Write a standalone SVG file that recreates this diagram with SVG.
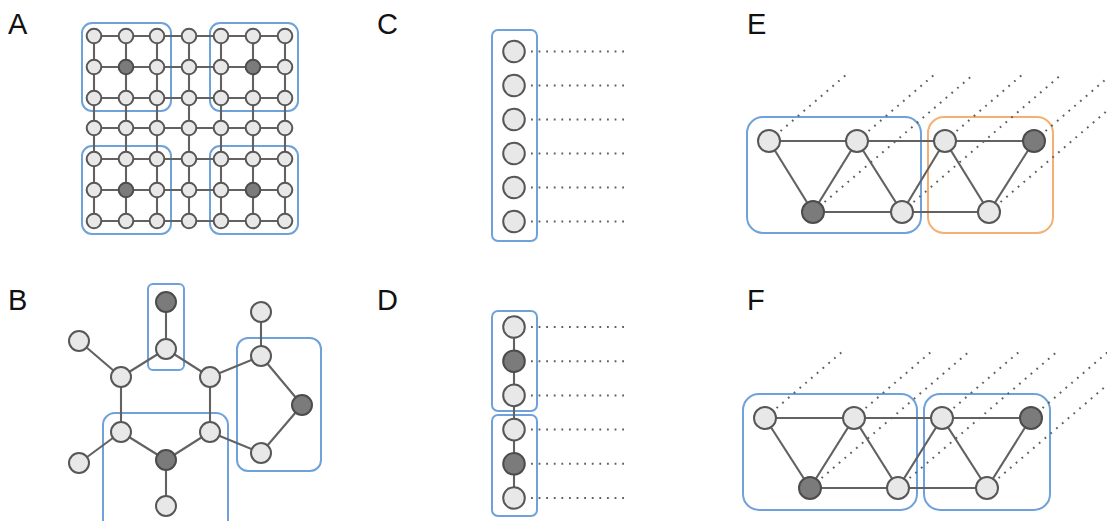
<svg xmlns="http://www.w3.org/2000/svg" width="1107" height="521" viewBox="0 0 1107 521">
<style>
.lbl{font-family:"Liberation Sans",Arial,sans-serif;font-size:29px;fill:#111}
.e{stroke:#626262;stroke-width:2.1;fill:none}
.dot{stroke:#5f5f5f;stroke-width:2;fill:none;stroke-dasharray:1.8 5.8}
.n{fill:#e8e8e8;stroke:#575757;stroke-width:2}
.d{fill:#7b7b7b;stroke:#4c4c4c;stroke-width:2}
.bb{fill:none;stroke:#6fa2da;stroke-width:2}
.ob{fill:none;stroke:#f4b073;stroke-width:2}
</style>
<rect width="1107" height="521" fill="#fff"/>
<g id="labels">
<text class="lbl" x="8" y="34">A</text>
<text class="lbl" x="8" y="310">B</text>
<text class="lbl" x="377" y="34">C</text>
<text class="lbl" x="377" y="310">D</text>
<text class="lbl" x="747" y="34">E</text>
<text class="lbl" x="747" y="310">F</text>
</g>
<g id="groups">
<rect class="bb" x="82" y="23" width="89" height="88" rx="10"/>
<rect class="bb" x="210" y="23" width="88" height="88" rx="10"/>
<rect class="bb" x="82" y="146" width="89" height="88" rx="10"/>
<rect class="bb" x="210" y="146" width="88" height="88" rx="10"/>
<rect class="bb" x="148" y="284" width="36" height="86" rx="5"/>
<rect class="bb" x="237" y="338" width="84" height="133" rx="11"/>
<rect class="bb" x="103" y="413" width="125" height="125" rx="12"/>
<rect class="bb" x="492" y="30" width="45" height="211" rx="6"/>
<rect class="bb" x="492" y="311" width="45" height="100" rx="6"/>
<rect class="bb" x="492" y="415" width="45" height="101" rx="6"/>
<rect class="bb" x="747" y="117" width="174" height="116" rx="16"/>
<rect class="ob" x="928" y="117" width="125" height="116" rx="16"/>
<rect class="bb" x="743" y="394" width="174" height="116" rx="16"/>
<rect class="bb" x="924" y="394" width="126" height="116" rx="16"/>
</g>
<g id="connectors">
<g id="conn-a">
<path class="e" d="M94 36H285M94 67H285M94 98H285M94 128H285M94 159H285M94 190H285M94 221H285"/>
<path class="e" d="M94 36V221M126 36V221M157 36V221M189 36V221M221 36V221M253 36V221M285 36V221"/>
</g>
<g id="conn-b">
<path class="e" d="M166 302L166 349M166 349L121 377M166 349L210 377M121 377L79 341M121 377L121 432M210 377L210 432M210 377L261 356M261 356L261 312M261 356L302 405M302 405L261 453M261 453L210 432M121 432L166 460M210 432L166 460M166 460L166 506M121 432L79 463"/>
</g>
<g id="conn-c">
<path class="dot" d="M531 51.5H625M531 85.5H625M531 119.5H625M531 153.5H625M531 187.5H625M531 221.5H625"/>
</g>
<g id="conn-d">
<path class="e" d="M514 327V498"/>
<path class="dot" d="M531 327H625M531 361.2H625M531 395.4H625M531 429.6H625M531 463.8H625M531 498H625"/>
</g>
<g id="conn-e">
<path class="dot" d="M769 141L847 74M857 141L935 74M813 212L974 74M945 141L1023 74M902 212L1062 74M1034 141L1112 74M989 212L1150 74"/>
<path class="e" d="M769 141H1034M813 212H989M769 141L813 212L857 141L902 212L945 141L989 212L1034 141"/>
</g>
<g id="conn-f">
<path class="dot" d="M765 418L843 351M854 418L932 351M810 488L971 350M942 418L1020 351M898 488L1059 350M1031 418L1109 351M987 488L1148 350"/>
<path class="e" d="M765 418H1031M810 488H987M765 418L810 488L854 418L898 488L942 418L987 488L1031 418"/>
</g>
</g>
<g id="nodes-a">
<g id="a00"><circle class="n" cx="94" cy="36" r="7.3"/></g>
<g id="a01"><circle class="n" cx="126" cy="36" r="7.3"/></g>
<g id="a02"><circle class="n" cx="157" cy="36" r="7.3"/></g>
<g id="a03"><circle class="n" cx="189" cy="36" r="7.3"/></g>
<g id="a04"><circle class="n" cx="221" cy="36" r="7.3"/></g>
<g id="a05"><circle class="n" cx="253" cy="36" r="7.3"/></g>
<g id="a06"><circle class="n" cx="285" cy="36" r="7.3"/></g>
<g id="a10"><circle class="n" cx="94" cy="67" r="7.3"/></g>
<g id="a11"><circle class="d" cx="126" cy="67" r="7.3"/></g>
<g id="a12"><circle class="n" cx="157" cy="67" r="7.3"/></g>
<g id="a13"><circle class="n" cx="189" cy="67" r="7.3"/></g>
<g id="a14"><circle class="n" cx="221" cy="67" r="7.3"/></g>
<g id="a15"><circle class="d" cx="253" cy="67" r="7.3"/></g>
<g id="a16"><circle class="n" cx="285" cy="67" r="7.3"/></g>
<g id="a20"><circle class="n" cx="94" cy="98" r="7.3"/></g>
<g id="a21"><circle class="n" cx="126" cy="98" r="7.3"/></g>
<g id="a22"><circle class="n" cx="157" cy="98" r="7.3"/></g>
<g id="a23"><circle class="n" cx="189" cy="98" r="7.3"/></g>
<g id="a24"><circle class="n" cx="221" cy="98" r="7.3"/></g>
<g id="a25"><circle class="n" cx="253" cy="98" r="7.3"/></g>
<g id="a26"><circle class="n" cx="285" cy="98" r="7.3"/></g>
<g id="a30"><circle class="n" cx="94" cy="128" r="7.3"/></g>
<g id="a31"><circle class="n" cx="126" cy="128" r="7.3"/></g>
<g id="a32"><circle class="n" cx="157" cy="128" r="7.3"/></g>
<g id="a33"><circle class="n" cx="189" cy="128" r="7.3"/></g>
<g id="a34"><circle class="n" cx="221" cy="128" r="7.3"/></g>
<g id="a35"><circle class="n" cx="253" cy="128" r="7.3"/></g>
<g id="a36"><circle class="n" cx="285" cy="128" r="7.3"/></g>
<g id="a40"><circle class="n" cx="94" cy="159" r="7.3"/></g>
<g id="a41"><circle class="n" cx="126" cy="159" r="7.3"/></g>
<g id="a42"><circle class="n" cx="157" cy="159" r="7.3"/></g>
<g id="a43"><circle class="n" cx="189" cy="159" r="7.3"/></g>
<g id="a44"><circle class="n" cx="221" cy="159" r="7.3"/></g>
<g id="a45"><circle class="n" cx="253" cy="159" r="7.3"/></g>
<g id="a46"><circle class="n" cx="285" cy="159" r="7.3"/></g>
<g id="a50"><circle class="n" cx="94" cy="190" r="7.3"/></g>
<g id="a51"><circle class="d" cx="126" cy="190" r="7.3"/></g>
<g id="a52"><circle class="n" cx="157" cy="190" r="7.3"/></g>
<g id="a53"><circle class="n" cx="189" cy="190" r="7.3"/></g>
<g id="a54"><circle class="n" cx="221" cy="190" r="7.3"/></g>
<g id="a55"><circle class="d" cx="253" cy="190" r="7.3"/></g>
<g id="a56"><circle class="n" cx="285" cy="190" r="7.3"/></g>
<g id="a60"><circle class="n" cx="94" cy="221" r="7.3"/></g>
<g id="a61"><circle class="n" cx="126" cy="221" r="7.3"/></g>
<g id="a62"><circle class="n" cx="157" cy="221" r="7.3"/></g>
<g id="a63"><circle class="n" cx="189" cy="221" r="7.3"/></g>
<g id="a64"><circle class="n" cx="221" cy="221" r="7.3"/></g>
<g id="a65"><circle class="n" cx="253" cy="221" r="7.3"/></g>
<g id="a66"><circle class="n" cx="285" cy="221" r="7.3"/></g>
</g>
<g id="nodes-b">
<g id="b1"><circle class="d" cx="166" cy="302" r="10"/></g>
<g id="b2"><circle class="n" cx="166" cy="349" r="10"/></g>
<g id="b3"><circle class="n" cx="121" cy="377" r="10"/></g>
<g id="b4"><circle class="n" cx="210" cy="377" r="10"/></g>
<g id="b5"><circle class="n" cx="121" cy="432" r="10"/></g>
<g id="b6"><circle class="n" cx="210" cy="432" r="10"/></g>
<g id="b7"><circle class="d" cx="166" cy="460" r="10"/></g>
<g id="b8"><circle class="n" cx="166" cy="506" r="10"/></g>
<g id="b9"><circle class="n" cx="79" cy="341" r="10"/></g>
<g id="b10"><circle class="n" cx="79" cy="463" r="10"/></g>
<g id="b11"><circle class="n" cx="261" cy="312" r="10"/></g>
<g id="b12"><circle class="n" cx="261" cy="356" r="10"/></g>
<g id="b13"><circle class="d" cx="302" cy="405" r="10"/></g>
<g id="b14"><circle class="n" cx="261" cy="453" r="10"/></g>
</g>
<g id="nodes-c">
<g id="c1"><circle class="n" cx="514" cy="51.5" r="10.8"/></g>
<g id="c2"><circle class="n" cx="514" cy="85.5" r="10.8"/></g>
<g id="c3"><circle class="n" cx="514" cy="119.5" r="10.8"/></g>
<g id="c4"><circle class="n" cx="514" cy="153.5" r="10.8"/></g>
<g id="c5"><circle class="n" cx="514" cy="187.5" r="10.8"/></g>
<g id="c6"><circle class="n" cx="514" cy="221.5" r="10.8"/></g>
</g>
<g id="nodes-d">
<g id="d1"><circle class="n" cx="514" cy="327" r="10.8"/></g>
<g id="d2"><circle class="d" cx="514" cy="361.2" r="10.8"/></g>
<g id="d3"><circle class="n" cx="514" cy="395.4" r="10.8"/></g>
<g id="d4"><circle class="n" cx="514" cy="429.6" r="10.8"/></g>
<g id="d5"><circle class="d" cx="514" cy="463.8" r="10.8"/></g>
<g id="d6"><circle class="n" cx="514" cy="498" r="10.8"/></g>
</g>
<g id="nodes-e">
<g id="e1"><circle class="n" cx="769" cy="141" r="11"/></g>
<g id="e2"><circle class="n" cx="857" cy="141" r="11"/></g>
<g id="e3"><circle class="n" cx="945" cy="141" r="11"/></g>
<g id="e4"><circle class="d" cx="1034" cy="141" r="11"/></g>
<g id="e5"><circle class="d" cx="813" cy="212" r="11"/></g>
<g id="e6"><circle class="n" cx="902" cy="212" r="11"/></g>
<g id="e7"><circle class="n" cx="989" cy="212" r="11"/></g>
</g>
<g id="nodes-f">
<g id="f1"><circle class="n" cx="765" cy="418" r="11"/></g>
<g id="f2"><circle class="n" cx="854" cy="418" r="11"/></g>
<g id="f3"><circle class="n" cx="942" cy="418" r="11"/></g>
<g id="f4"><circle class="d" cx="1031" cy="418" r="11"/></g>
<g id="f5"><circle class="d" cx="810" cy="488" r="11"/></g>
<g id="f6"><circle class="n" cx="898" cy="488" r="11"/></g>
<g id="f7"><circle class="n" cx="987" cy="488" r="11"/></g>
</g>
</svg>
